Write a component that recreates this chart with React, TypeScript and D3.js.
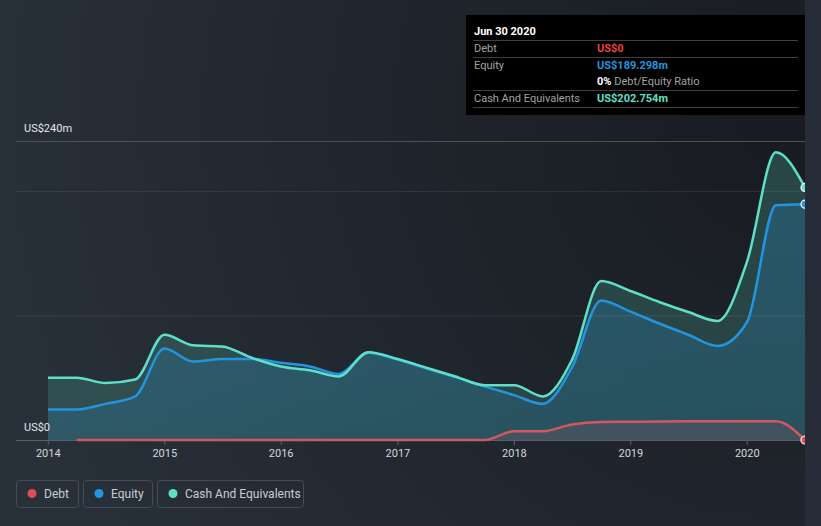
import React, { useEffect, useRef } from "react";
import * as d3 from "d3";

// quarter ends, Dec 2013 .. Jun 2020
const dates: string[] = [
  "2013-12-31", "2014-03-31", "2014-06-30", "2014-09-30", "2014-12-31",
  "2015-03-31", "2015-06-30", "2015-09-30", "2015-12-31",
  "2016-03-31", "2016-06-30", "2016-09-30", "2016-12-31",
  "2017-03-31", "2017-06-30", "2017-09-30", "2017-12-31",
  "2018-03-31", "2018-06-30", "2018-09-30", "2018-12-31",
  "2019-03-31", "2019-06-30", "2019-09-30", "2019-12-31",
  "2020-03-31", "2020-06-30",
];

// values in US$ millions
const debt: (number | null)[] = [
  null, 0, 0, 0, 0, 0, 0, 0, 0, 0, 0, 0, 0, 0, 0, 0,
  7, 7, 12.5, 14.5, 14.7, 14.8, 15, 15, 15, 15, 0,
];
const equity: number[] = [
  24.5, 24.5, 29, 35, 73.5, 63, 65, 65, 62, 59, 53, 70, 64.5, 57.5, 50.5, 43,
  36, 29, 58, 112, 103, 93.5, 84.5, 75.5, 94.5, 188.5, 189.298,
];
const cash: number[] = [
  50, 50, 45.7, 48.5, 84.5, 76, 75, 66, 59, 56, 51, 70.5, 65, 58, 51, 44,
  44, 35, 64, 127.6, 119.6, 110.8, 102.7, 95.5, 143, 231, 202.754,
];

const yearTicks: string[] = ["2014", "2015", "2016", "2017", "2018", "2019", "2020"];
const gridValues: number[] = [0, 100, 200, 240];
const yLabels: number[] = [0, 240];

const WIDTH = 821;
const HEIGHT = 526;

function App() {
  const chart = useRef<any>();

  useEffect(() => {
    document.body.style.margin = "0";
    document.body.style.background = "#262d39";

    const parse = d3.timeParse("%Y-%m-%d");
    const when = dates.map((d) => parse(d) as Date);

    const svg = d3
      .select(chart.current)
      .attr("width", WIDTH)
      .attr("height", HEIGHT)
      .style("display", "block")
      .style("font-family", "Roboto, 'Noto Sans', sans-serif");
    svg.selectAll("*").remove();

    const defs = svg.append("defs");
    const bg = defs
      .append("radialGradient")
      .attr("id", "bgGrad")
      .attr("gradientUnits", "userSpaceOnUse")
      .attr("cx", 790)
      .attr("cy", 120)
      .attr("r", 820);
    bg.append("stop").attr("offset", "0%").attr("stop-color", "#181b21");
    bg.append("stop").attr("offset", "100%").attr("stop-color", "#283039");

    const fillGrad = (id: string, color: string, top: number, bottom: number) => {
      const g = defs
        .append("linearGradient")
        .attr("id", id)
        .attr("gradientUnits", "userSpaceOnUse")
        .attr("x1", 0)
        .attr("x2", 0)
        .attr("y1", 140)
        .attr("y2", 440);
      g.append("stop").attr("offset", "0%").attr("stop-color", color).attr("stop-opacity", top);
      g.append("stop").attr("offset", "100%").attr("stop-color", color).attr("stop-opacity", bottom);
    };
    fillGrad("cashFill", "#5ee0c8", 0.22, 0.17);
    fillGrad("equityFill", "#2394df", 0.24, 0.16);
    fillGrad("debtFill", "#e05a64", 0.18, 0.14);

    // background
    svg.append("rect").attr("width", WIDTH).attr("height", HEIGHT).attr("fill", "#262d39");
    svg.append("rect").attr("width", 805).attr("height", HEIGHT).attr("fill", "url(#bgGrad)");

    const x = d3
      .scaleTime()
      .domain([when[0], when[when.length - 1]])
      .range([48, 805]);
    const y = d3.scaleLinear().domain([0, 240]).range([440, 141]);

    const curve = d3.curveMonotoneX;

    const areaOf = (vals: (number | null)[]) =>
      d3
        .area<number>()
        .defined((i) => vals[i] !== null)
        .x((i) => x(when[i]))
        .y0(y(0))
        .y1((i) => y(vals[i] as number))
        .curve(curve);
    const lineOf = (vals: (number | null)[]) =>
      d3
        .line<number>()
        .defined((i) => vals[i] !== null)
        .x((i) => x(when[i]))
        .y((i) => y(vals[i] as number))
        .curve(curve);

    const idx = d3.range(dates.length);

    svg.append("path").datum(idx).attr("d", areaOf(cash) as any).attr("fill", "url(#cashFill)");
    svg.append("path").datum(idx).attr("d", areaOf(equity) as any).attr("fill", "url(#equityFill)");
    svg.append("path").datum(idx).attr("d", areaOf(debt) as any).attr("fill", "url(#debtFill)");

    // gridlines
    svg
      .selectAll(".grid")
      .data(gridValues)
      .enter()
      .append("line")
      .attr("x1", 16)
      .attr("x2", 805)
      .attr("y1", (d) => y(d) + 0.5)
      .attr("y2", (d) => y(d) + 0.5)
      .attr("stroke", (d) => (d === 240 ? "#4b515c" : d === 0 ? "#59606b" : "rgba(255,255,255,0.09)"))
      .attr("stroke-width", 1);

    // x ticks
    yearTicks.forEach((t) => {
      const tx = x(parse(t + "-01-01") as Date);
      svg
        .append("line")
        .attr("x1", tx)
        .attr("x2", tx)
        .attr("y1", 440)
        .attr("y2", 445)
        .attr("stroke", "#59606b");
      svg
        .append("text")
        .attr("x", tx)
        .attr("y", 457)
        .attr("text-anchor", "middle")
        .attr("font-size", 11)
        .attr("fill", "#d4d7dc")
        .text(t);
    });

    yLabels.forEach((v) => {
      svg
        .append("text")
        .attr("x", 24)
        .attr("y", y(v) - 9)
        .attr("font-size", 11)
        .attr("fill", "#e4e6ea")
        .text(v === 0 ? "US$0" : `US$${v}m`);
    });

    // lines
    const series = [
      { vals: equity, color: "#2394df" },
      { vals: cash, color: "#5ee0c8" },
      { vals: debt, color: "#d2585e" },
    ];
    series.forEach((s) => {
      svg
        .append("path")
        .datum(idx)
        .attr("d", lineOf(s.vals) as any)
        .attr("fill", "none")
        .attr("stroke", s.color)
        .attr("stroke-width", 2.5);
    });
    const last = dates.length - 1;
    [
      { v: cash[last], color: "#5ee0c8" },
      { v: equity[last], color: "#2394df" },
      { v: debt[last] as number, color: "#e64a4f" },
    ].forEach((p) => {
      svg
        .append("circle")
        .attr("cx", x(when[last]))
        .attr("cy", y(p.v))
        .attr("r", 4)
        .attr("fill", p.color)
        .attr("stroke", "#ffffff")
        .attr("stroke-width", 1.2);
    });
    // cover the overhang right of the plot (end dots are cut in half)
    svg.append("rect").attr("x", 805).attr("y", 0).attr("width", 16).attr("height", HEIGHT).attr("fill", "#262d39");

    // tooltip
    const tip = svg.append("g");
    tip.append("rect").attr("x", 466).attr("y", 15).attr("width", 339).attr("height", 100).attr("fill", "#000000");
    tip
      .append("text")
      .attr("x", 474)
      .attr("y", 35)
      .attr("font-size", 11)
      .attr("font-weight", "bold")
      .attr("fill", "#ffffff")
      .text("Jun 30 2020");
    [40, 57, 90, 107].forEach((ly) => {
      tip
        .append("line")
        .attr("x1", 473)
        .attr("x2", 798)
        .attr("y1", ly + 0.5)
        .attr("y2", ly + 0.5)
        .attr("stroke", "#3f3f3f");
    });
    const rows = [
      { label: "Debt", value: "US$0", color: "#e64141", y: 52 },
      { label: "Equity", value: "US$189.298m", color: "#2394df", y: 69 },
      { label: "Cash And Equivalents", value: "US$202.754m", color: "#5ee0c8", y: 102 },
    ];
    rows.forEach((r) => {
      tip.append("text").attr("x", 474).attr("y", r.y).attr("font-size", 11).attr("fill", "#a3a3a3").text(r.label);
      tip
        .append("text")
        .attr("x", 597)
        .attr("y", r.y)
        .attr("font-size", 11)
        .attr("font-weight", "bold")
        .attr("fill", r.color)
        .text(r.value);
    });
    const ratio = tip.append("text").attr("x", 597).attr("y", 85).attr("font-size", 11);
    ratio.append("tspan").attr("font-weight", "bold").attr("fill", "#ffffff").text("0%");
    ratio.append("tspan").attr("fill", "#a3a3a3").text(" Debt/Equity Ratio");

    // legend
    const legend = [
      { label: "Debt", color: "#e64a4f", x: 16.5, w: 62 },
      { label: "Equity", color: "#2394df", x: 83.5, w: 69 },
      { label: "Cash And Equivalents", color: "#5ee0c8", x: 157.5, w: 146 },
    ];
    legend.forEach((l) => {
      const g = svg.append("g").attr("transform", `translate(${l.x},480.5)`);
      g.append("rect")
        .attr("width", l.w)
        .attr("height", 27)
        .attr("rx", 3)
        .attr("fill", "none")
        .attr("stroke", "#454c58");
      g.append("circle").attr("cx", 15.5).attr("cy", 13).attr("r", 4.5).attr("fill", l.color);
      g.append("text")
        .attr("x", 27.5)
        .attr("y", 17)
        .attr("font-size", 12)
        .attr("fill", "#c9cdd3")
        .text(l.label);
    });
  }, []);

  return (
    <div>
      <svg ref={chart}></svg>
    </div>
  );
}

export default App;
